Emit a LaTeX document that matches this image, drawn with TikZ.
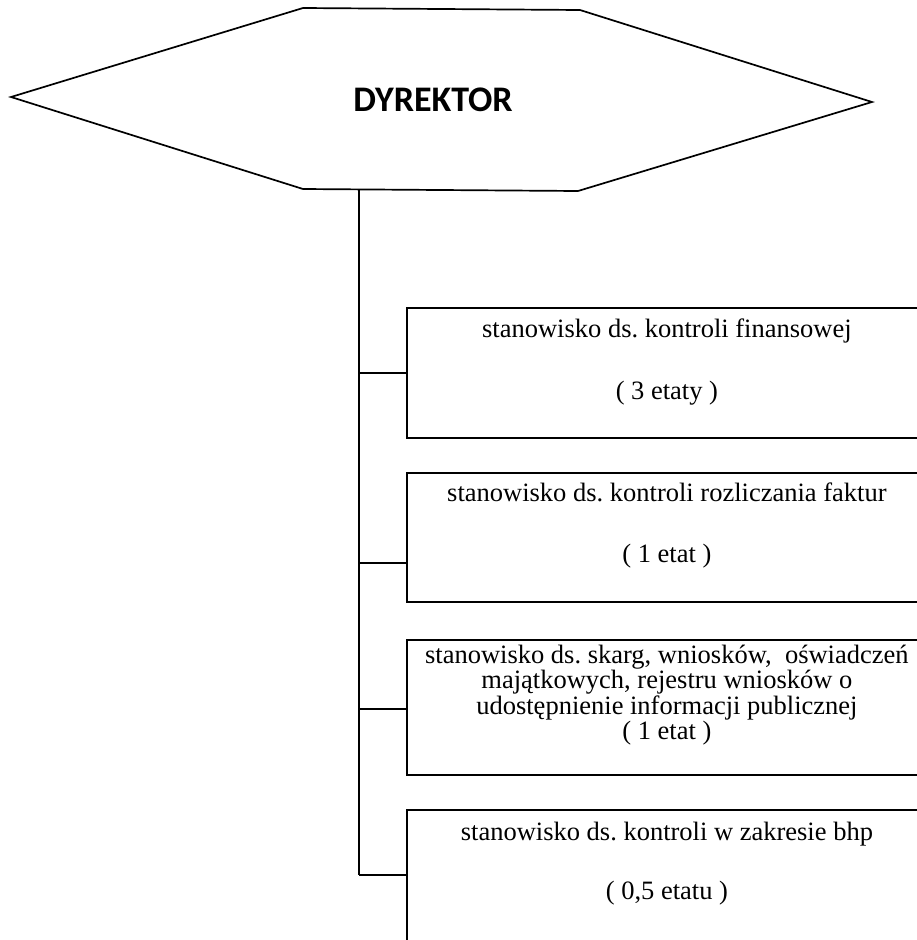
\documentclass[tikz,border=0pt]{standalone}
\usepackage{fontspec}
\setmainfont{Liberation Serif}
\newfontfamily\headfont{Carlito}
\usepackage{tikz}
\usetikzlibrary{positioning,calc}
\frenchspacing

\begin{document}
\begin{tikzpicture}[
  x=1pt, y=-1pt,
  hexa/.style  ={draw, line width=1.7pt, line join=miter},
  unit/.style  ={draw, line width=1.8pt, minimum width=520pt, inner sep=0pt,
                 anchor=north west},
  utext/.style ={align=center, inner sep=0pt, anchor=north,
                 font=\fontsize{26.5}{24}\selectfont},
  link/.style  ={line width=1.5pt}
]
\useasboundingbox (0,0) rectangle (917,940);

% --- director hexagon ---
\draw[hexa] (11,97) -- (303,8) -- (580,10) -- (872,102) -- (578,191) -- (303,189) -- cycle;
\node[font=\headfont\bfseries\fontsize{36}{40}\selectfont] (dyr) at (433,100) {DYREKTOR};
\coordinate (dyrbot) at (359,190);

% --- posts ---
\node[unit, minimum height=130pt] (b1) at (406,307) {};
\node[unit, minimum height=129pt] (b2) at (406,472) {};
\node[unit, minimum height=135pt] (b3) at (406,639) {};
\node[unit, minimum height=150pt] (b4) at (406,809) {};

\node[utext, below=12pt of b1.north] (t1)
  {stanowisko ds. kontroli finansowej\\[37pt] ( 3 etaty )};
\node[utext, below=11pt of b2.north] (t2)
  {stanowisko ds. kontroli rozliczania faktur\\[37pt] ( 1 etat )};
\node[utext, below=6pt of b3.north] (t3)
  {stanowisko ds. skarg, wniosków, \ oświadczeń\\
   majątkowych, rejestru wniosków o\\
   udostępnienie informacji publicznej\\
   ( 1 etat )};
\node[utext, below=13pt of b4.north] (t4)
  {stanowisko ds. kontroli w zakresie bhp\\[34pt] ( 0,5 etatu )};

% --- trunk and branches ---
\coordinate (k1) at (359,373);
\coordinate (k2) at (359,563);
\coordinate (k3) at (359,709);
\coordinate (k4) at (359,875);

\draw[link] (dyrbot) -- (k4);
\draw[link] (k1) -- (k1 -| b1.west);
\draw[link] (k2) -- (k2 -| b2.west);
\draw[link] (k3) -- (k3 -| b3.west);
\draw[link] (k4) -- (k4 -| b4.west);

\end{tikzpicture}
\end{document}
